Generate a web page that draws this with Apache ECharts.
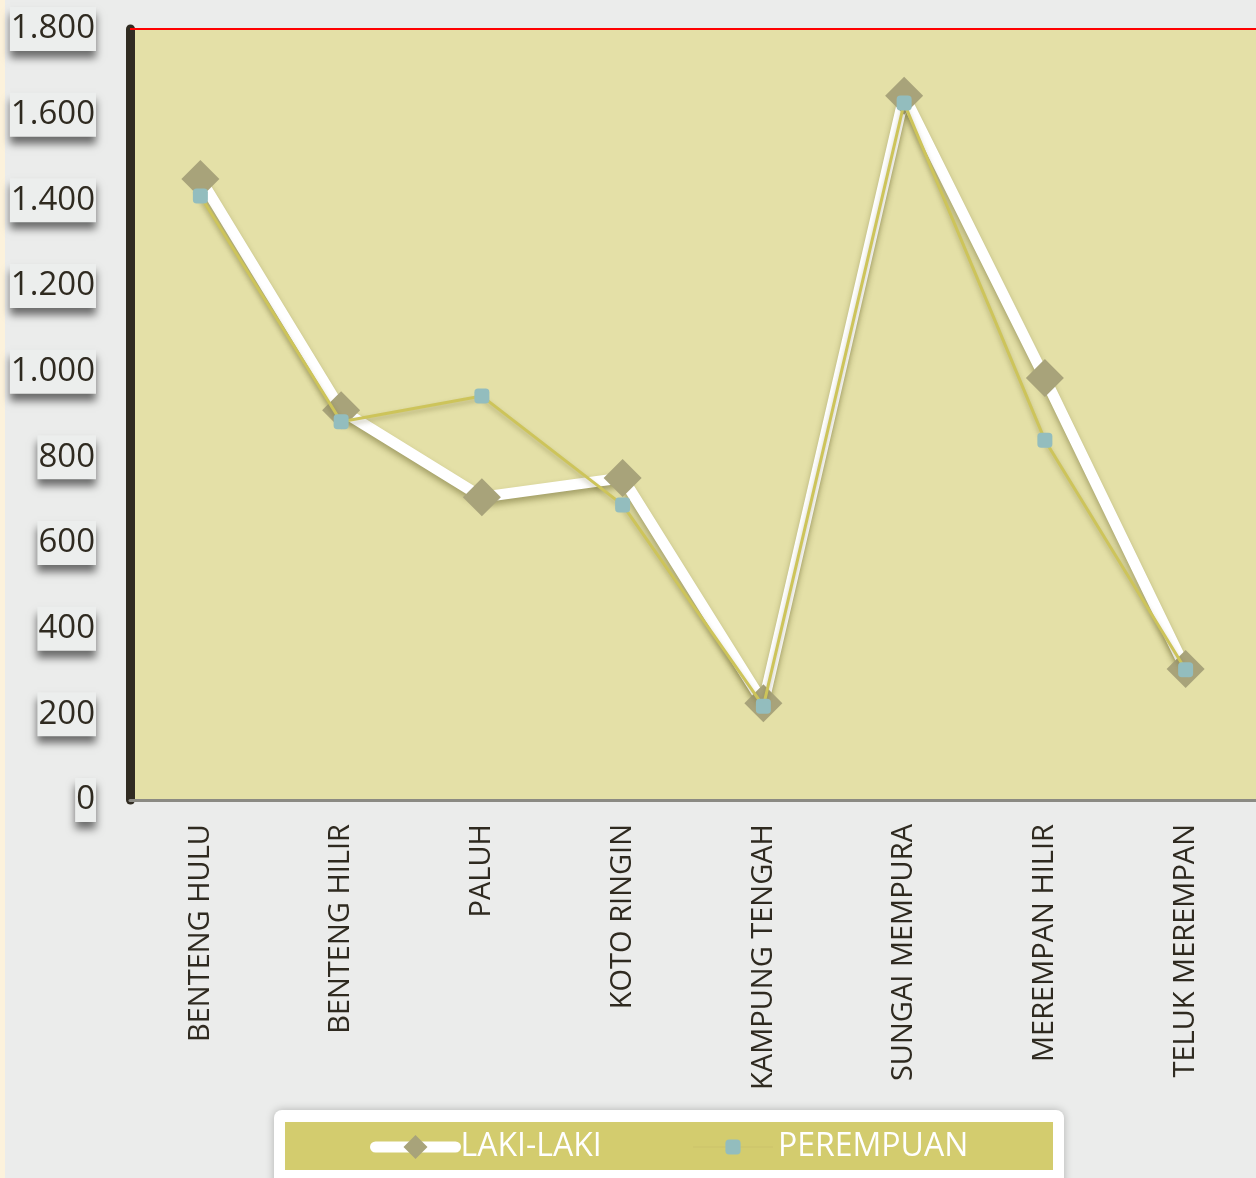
<!DOCTYPE html>
<html>
<head>
<meta charset="utf-8">
<script src="https://cdn.jsdelivr.net/npm/echarts@6/dist/echarts.min.js"></script>
<style>
html,body{margin:0;padding:0;background:#ebeceb;}
#c{width:1256px;height:1178px;}
</style>
</head>
<body>
<div id="c"></div>
<script>
const categories = ['BENTENG HULU','BENTENG HILIR','PALUH','KOTO RINGIN','KAMPUNG TENGAH','SUNGAI MEMPURA','MEREMPAN HILIR','TELUK MEREMPAN'];
const lakiLaki = [1450, 910, 707, 752, 226, 1644, 985, 306];
const perempuan = [1410, 883, 943, 689, 219, 1627, 840, 304];
const yTicks = [0, 200, 400, 600, 800, 1000, 1200, 1400, 1600, 1800];

function fmt(v){ return String(v).replace(/\B(?=(\d{3})+(?!\d))/g, '.'); }

const chart = echarts.init(document.getElementById('c'));
chart.setOption({
  backgroundColor: '#ebeceb',
  animation: false,
  textStyle: { fontFamily: 'Open Sans' },
  graphic: [
    { type: 'rect', z: -10, shape: { x: 0, y: 0, width: 5, height: 1178 }, style: { fill: '#fcf2dc' } },
    { type: 'rect', z: 0, shape: { x: 274, y: 1110, width: 790, height: 90, r: 8 },
      style: { fill: '#ffffff', shadowBlur: 8, shadowColor: 'rgba(0,0,0,0.25)' } },
    { type: 'rect', z: 1, shape: { x: 285, y: 1122, width: 768, height: 48 },
      style: { fill: '#d3cc6e' } }
  ],
  grid: {
    left: 130, right: 0, top: 29, bottom: 378,
    show: true, backgroundColor: '#e4e0a7', borderWidth: 0
  },
  legend: [
    {
      z: 10,
      left: 370, top: 1131,
      itemWidth: 80, itemHeight: 30,
      itemTextGap: 6,
      padding: 0,
      textStyle: { color: '#ffffff', fontSize: 32, fontFamily: 'Open Sans' },
      data: [{ name: 'LAKI-LAKI', lineStyle: { color: '#ffffff', width: 11, cap: 'round', shadowBlur: 0 } }]
    },
    {
      z: 10,
      left: 692, top: 1131,
      itemWidth: 80, itemHeight: 19,
      itemTextGap: 6,
      padding: 0,
      textStyle: { color: '#ffffff', fontSize: 32, fontFamily: 'Open Sans' },
      data: [{ name: 'PEREMPUAN', lineStyle: { color: '#cfc76c', width: 2, shadowBlur: 0 } }]
    }
  ],
  xAxis: {
    type: 'category',
    data: categories,
    boundaryGap: true,
    axisLine: { show: true, lineStyle: { color: '#8b8a83', width: 3 } },
    axisTick: { show: false },
    splitLine: { show: false },
    axisLabel: { rotate: 90, margin: 24, fontSize: 29, color: '#2f2a20', fontFamily: 'Open Sans' }
  },
  yAxis: {
    type: 'value',
    min: 0, max: 1800, interval: 200,
    axisLine: { show: true, lineStyle: { color: '#302b21', width: 9, cap: 'round' } },
    axisTick: { show: false },
    splitLine: { show: false },
    axisLabel: {
      margin: 34,
      fontSize: 33,
      color: '#2f2a20',
      fontFamily: 'Open Sans',
      lineHeight: 44,
      backgroundColor: '#eceeed',
      padding: [0, 1, 0, 1],
      shadowColor: 'rgba(0,0,0,0.55)',
      shadowBlur: 8,
      shadowOffsetY: 7,
      formatter: function (v) { return yTicks.indexOf(v) >= 0 ? fmt(v) : ''; }
    }
  },
  series: [
    {
      name: 'LAKI-LAKI',
      type: 'line',
      data: lakiLaki,
      symbol: 'diamond',
      symbolSize: 38,
      itemStyle: { color: '#a8a37a' },
      lineStyle: { color: '#ffffff', width: 11, shadowColor: 'rgba(80,75,20,0.45)', shadowBlur: 6, shadowOffsetY: 4 },
      z: 2,
      markLine: {
        silent: true,
        symbol: 'none',
        label: { show: false },
        lineStyle: { color: '#ff0000', width: 2, type: 'solid' },
        data: [{ yAxis: 1800 }]
      }
    },
    {
      name: 'PEREMPUAN',
      type: 'line',
      data: perempuan,
      symbol: 'roundRect',
      symbolSize: 15,
      itemStyle: { color: '#93bdbe' },
      lineStyle: { color: '#cdc45a', width: 3, shadowColor: 'rgba(80,75,20,0.35)', shadowBlur: 5, shadowOffsetY: 3 },
      z: 3
    }
  ]
});
</script>
</body>
</html>
